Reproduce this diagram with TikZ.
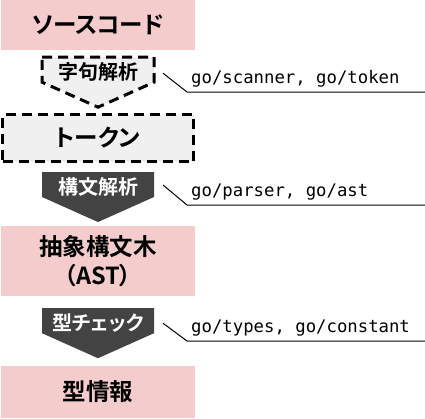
\documentclass[tikz,border=0pt]{standalone}
\usepackage{fontspec}
\newfontfamily\jp{Noto Sans CJK JP}[BoldFont={Noto Sans CJK JP Bold}, RawFeature=+palt]
\newfontfamily\pkgfont{DejaVu Sans Mono}
\usetikzlibrary{positioning}
\definecolor{stagepink}{HTML}{F4CCCC}
\definecolor{stepdark}{HTML}{434343}
\definecolor{steplight}{HTML}{F0F0F0}

\begin{document}
\begin{tikzpicture}[x=1pt, y=-1pt,
	stage/.style={rectangle, fill=stagepink, inner sep=0pt, minimum width=194pt, align=center, font=\jp\bfseries\fontsize{23.5}{29}\selectfont},
	dashbox/.style={draw=black, line width=3pt, dash pattern=on 10pt off 6pt, fill=steplight},
	steplabel/.style={inner sep=0pt, font=\jp\bfseries\fontsize{20}{22}\selectfont},
	pkg/.style={anchor=south west, inner xsep=4pt, inner ysep=5pt, font=\pkgfont\fontsize{17.3}{20}\selectfont},
	leader/.style={draw=black, line width=1pt}]
	\useasboundingbox (0,0) rectangle (425,418);

	% Stages
	\node[stage, minimum height=50pt] (src) at (98,25) {ソースコード};
	\node[stage, dashbox, minimum width=191pt, minimum height=47pt] (tok) at (98,138) {トークン};
	\node[stage, minimum height=70pt] (ast) at (98,261) {抽象構文木\\（AST）};
	\node[stage, minimum height=52pt] (typ) at (98,392) {型情報};

	% Steps
	\coordinate (lexTop) at ([yshift=-7pt]src.south);
	\coordinate (parseTop) at ([yshift=-9pt]tok.south);
	\coordinate (checkTop) at ([yshift=-12pt]ast.south);
	\draw[dashbox] (lexTop) +(-56,0) -- +(56,0) -- +(56,25) -- +(0,50) -- +(-56,25) -- cycle;
	\fill[stepdark] (parseTop) +(-56,0) -- +(56,0) -- +(56,25) -- +(0,50) -- +(-56,25) -- cycle;
	\fill[stepdark] (checkTop) +(-56,0) -- +(56,0) -- +(56,25) -- +(0,50) -- +(-56,25) -- cycle;
	\node[steplabel] (lex) at ([yshift=-14.5pt]lexTop) {字句解析};
	\node[steplabel, text=white] (parse) at ([yshift=-14.5pt]parseTop) {構文解析};
	\node[steplabel, text=white] (check) at ([yshift=-14.5pt]checkTop) {型チェック};

	% Packages
	\node[pkg] (lexPkg) at (187,92) {go/scanner, go/token};
	\node[pkg] (parsePkg) at (187,205) {go/parser, go/ast};
	\node[pkg] (checkPkg) at (187,341) {go/types, go/constant};
	\coordinate (lexTip) at ([shift={(65,16)}]lexTop);
	\coordinate (parseTip) at ([shift={(65,13)}]parseTop);
	\coordinate (checkTip) at ([shift={(65,15)}]checkTop);
	\draw[leader] (lexTip) -- (lexPkg.south west) -- ++(238,0);
	\draw[leader] (parseTip) -- (parsePkg.south west) -- ++(238,0);
	\draw[leader] (checkTip) -- (checkPkg.south west) -- ++(238,0);
\end{tikzpicture}
\end{document}
